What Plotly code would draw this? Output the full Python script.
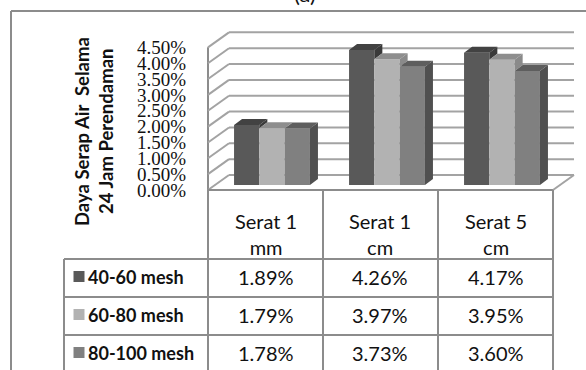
import plotly.graph_objects as go

# ---------------- data ----------------
categories = ["Serat 1<br>mm", "Serat 1<br>cm", "Serat 5<br>cm"]
series_names = ["40-60 mesh", "60-80 mesh", "80-100 mesh"]
values_40_60 = [1.89, 4.26, 4.17]
values_60_80 = [1.79, 3.97, 3.95]
values_80_100 = [1.78, 3.73, 3.60]
y_tick_values = [0.0, 0.5, 1.0, 1.5, 2.0, 2.5, 3.0, 3.5, 4.0, 4.5]
y_tick_labels = ["0.00%", "0.50%", "1.00%", "1.50%", "2.00%", "2.50%",
                 "3.00%", "3.50%", "4.00%", "4.50%"]
y_title_lines = ["Daya Serap Air\u00a0 Selama", "24 Jam Perendaman"]
chart_title = "(a)"

series_values = [values_40_60, values_60_80, values_80_100]

# ---------------- styles / geometry ----------------
W, H = 586, 370
X0, UX = 265.5, 115.0      # px of category 0 (front plane), px per category
Y0, UY = 190.0, 31.7       # px of value 0 (front plane), px per 1 %
front_cols = ["#595959", "#b2b2b2", "#808080"]
top_cols = ["#424242", "#8e8e8e", "#5e5e5e"]
side_cols = ["#3a3a3a", "#8a8a8a", "#505050"]
grid_col = "#a3a3a3"
table_col = "#8c8c8c"
txt_font = "Lato"
txt_col = "#111111"

BW = 0.22                     # bar width (category units)
bar_dx, bar_dy = 6.5 / UX, 5 / UY     # bar plane offset
dep_dx, dep_dy = 8 / UX, 6 / UY       # bar depth
back_dx, back_dy = 21 / UX, 15 / UY   # back wall offset

n_cat = len(categories)
n_ser = len(series_values)
vmax = y_tick_values[-1]


def wx(x):
    return X0 + UX * x


def wy(v):
    return Y0 - UY * v


def px(p):
    return p / W


def py(p):
    return 1 - p / H


def note(x, y, text, size=20, bold=False, xanchor="center", angle=0):
    f = dict(family=txt_font, size=size, color=txt_col)
    if bold:
        f["weight"] = "bold"
    return dict(xref="paper", yref="paper", x=x, y=y, text=text,
                showarrow=False, xanchor=xanchor, yanchor="middle",
                textangle=angle, font=f)


fig = go.Figure()
shapes = []
annotations = []

# back wall grid, left wall and floor (below traces)
for v in y_tick_values:
    shapes.append(dict(type="line", xref="x", yref="y", layer="below",
                       x0=-0.5 + back_dx, x1=n_cat - 0.5 + back_dx,
                       y0=v + back_dy, y1=v + back_dy,
                       line=dict(color=grid_col, width=2)))
    shapes.append(dict(type="line", xref="x", yref="y", layer="below",
                       x0=-0.5, x1=-0.5 + back_dx,
                       y0=v, y1=v + back_dy,
                       line=dict(color=grid_col, width=2)))
shapes.append(dict(type="line", xref="x", yref="y", layer="below",
                   x0=-0.5, x1=n_cat - 0.5, y0=0, y1=0,
                   line=dict(color=table_col, width=2)))
shapes.append(dict(type="line", xref="x", yref="y", layer="below",
                   x0=n_cat - 0.5, x1=n_cat - 0.5 + back_dx, y0=0, y1=back_dy,
                   line=dict(color=grid_col, width=2)))
shapes.append(dict(type="line", xref="paper", yref="paper", layer="below",
                   x0=px(wx(-0.5)), x1=px(wx(-0.5)), y0=py(wy(vmax)), y1=0,
                   line=dict(color=table_col, width=2)))

# bars (front faces)
for j in range(n_ser):
    xs = [i + (j - (n_ser - 1) / 2) * BW + bar_dx for i in range(n_cat)]
    fig.add_trace(go.Bar(x=xs, y=series_values[j], base=bar_dy, width=BW,
                         marker=dict(color=front_cols[j], line=dict(width=0)),
                         name=series_names[j], hoverinfo="skip",
                         showlegend=False))

# top and side faces
for j in range(n_ser):
    tx, ty, sx, sy = [], [], [], []
    for i in range(n_cat):
        xc = i + (j - (n_ser - 1) / 2) * BW + bar_dx
        x0, x1 = xc - BW / 2, xc + BW / 2
        top = bar_dy + series_values[j][i]
        nxt = series_values[j + 1][i] + bar_dy if j + 1 < n_ser else None
        if nxt is not None and nxt > top:
            tx += [x0, x1, x1, x0 + dep_dx, x0, None]
        else:
            tx += [x0, x1, x1 + dep_dx, x0 + dep_dx, x0, None]
        ty += [top, top, top + dep_dy, top + dep_dy, top, None]
        lo = bar_dy if nxt is None else nxt
        if lo < top:
            sx += [x1, x1, x1 + dep_dx, x1 + dep_dx, x1, None]
            sy += [lo, top, top + dep_dy, lo + dep_dy, lo, None]
    fig.add_trace(go.Scatter(x=tx, y=ty, mode="lines", fill="toself",
                             fillcolor=top_cols[j], line=dict(width=0),
                             hoverinfo="skip", showlegend=False))
    if sx:
        fig.add_trace(go.Scatter(x=sx, y=sy, mode="lines", fill="toself",
                                 fillcolor=side_cols[j], line=dict(width=0),
                                 hoverinfo="skip", showlegend=False))

# ---------------- data table ----------------
header_bottom = 259
row_h = 38
legend_left = 64
tline = dict(color=table_col, width=2)
for i in range(n_cat):
    xr = px(wx(i + 0.5))
    shapes.append(dict(type="line", xref="paper", yref="paper",
                       x0=xr, x1=xr, y0=py(Y0), y1=0, line=tline))
    annotations.append(note(px(wx(i)), py(234), categories[i], size=20))
for r in range(n_ser + 1):
    yy = header_bottom + r * row_h
    shapes.append(dict(type="line", xref="paper", yref="paper",
                       x0=px(legend_left), x1=px(wx(n_cat - 0.5)),
                       y0=py(yy), y1=py(yy), line=tline))
shapes.append(dict(type="line", xref="paper", yref="paper",
                   x0=px(legend_left), x1=px(legend_left),
                   y0=py(header_bottom), y1=0, line=tline))
for j in range(n_ser):
    yc = header_bottom + (j + 0.5) * row_h - 1.5
    shapes.append(dict(type="rect", xref="paper", yref="paper",
                       x0=px(73.5), x1=px(84.5), y0=py(yc - 5.5), y1=py(yc + 5.5),
                       fillcolor=front_cols[j], line=dict(width=0)))
    annotations.append(note(px(86), py(yc), series_names[j], size=18,
                            bold=True, xanchor="left"))
    for i in range(n_cat):
        annotations.append(note(px(wx(i)), py(yc),
                                f"{series_values[j][i]:.2f}%", size=20))

# axis title (two lines) and chart title
annotations.append(note(px(82), py(132), y_title_lines[0], size=18.5,
                        bold=True, angle=-90))
annotations.append(note(px(106), py(132), y_title_lines[1], size=18.5,
                        bold=True, angle=-90))
annotations.append(note(px(305), py(-6), chart_title, size=22))

# outer border
shapes.append(dict(type="line", xref="paper", yref="paper",
                   x0=px(11), x1=px(11), y0=py(11), y1=0,
                   line=dict(color=table_col, width=2)))
shapes.append(dict(type="line", xref="paper", yref="paper",
                   x0=px(11), x1=1, y0=py(11), y1=py(11),
                   line=dict(color=table_col, width=2)))

fig.update_layout(
    width=W, height=H,
    margin=dict(l=0, r=0, t=0, b=0),
    paper_bgcolor="white", plot_bgcolor="rgba(0,0,0,0)",
    barmode="overlay", showlegend=False,
    shapes=shapes, annotations=annotations,
    xaxis=dict(range=[(0 - X0) / UX, (W - X0) / UX], visible=False,
               fixedrange=True, domain=[0, 1]),
    yaxis=dict(range=[(Y0 - H) / UY, Y0 / UY], domain=[0, 1],
               anchor="free", position=px(wx(-0.5)),
               tickvals=y_tick_values, ticktext=y_tick_labels,
               showgrid=False, zeroline=False, showline=False, ticks="",
               ticklabelstandoff=22,
               tickfont=dict(family="Liberation Serif", size=19, color=txt_col),
               fixedrange=True),
)

fig.write_html("out.html", config={"displayModeBar": False},
               post_script="document.body.style.margin='0';"
                           "document.body.style.overflow='hidden';")
